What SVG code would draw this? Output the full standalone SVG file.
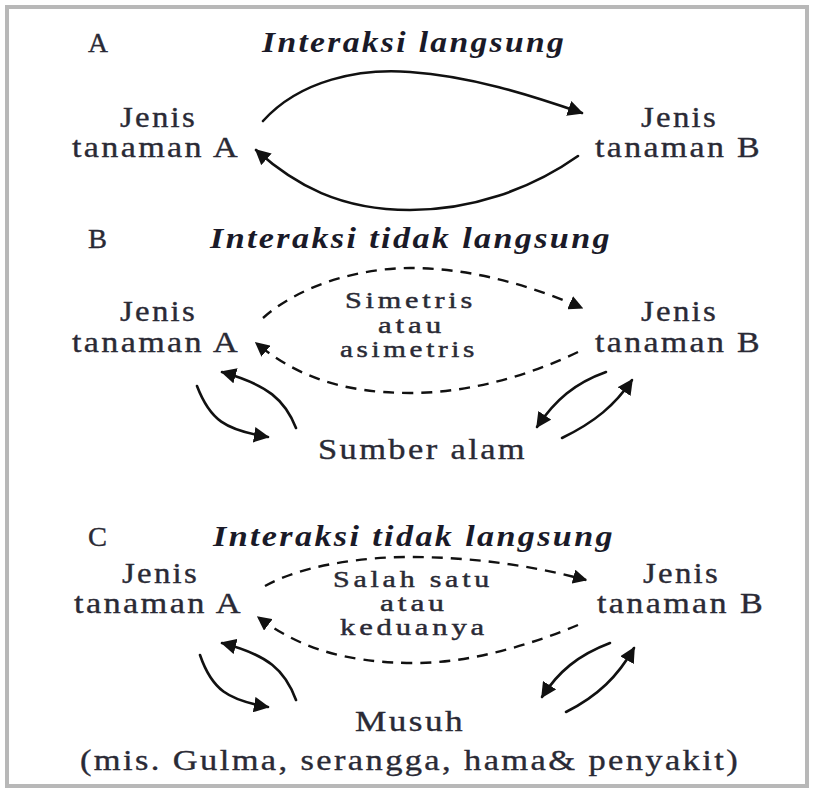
<svg xmlns="http://www.w3.org/2000/svg" width="814" height="792" viewBox="0 0 814 792">
<style>
text{font-family:"Liberation Serif","Times New Roman",Times,serif;fill:#2a2a35;stroke:#2a2a35;stroke-width:0.35;}
.lbl{font-size:29px;letter-spacing:2px;}
.mid{font-size:24px;letter-spacing:3px;stroke-width:0.45;}
.hd{font-size:29px;font-weight:bold;font-style:italic;fill:#1a1a28;stroke:none;letter-spacing:2px;}
.let{font-size:27px;}
.s{fill:none;stroke:#111;stroke-width:2.6;stroke-linecap:round;}
.d{fill:none;stroke:#111;stroke-width:2.4;stroke-dasharray:11 8;}
</style>
<defs>
<marker id="ah" viewBox="0 0 10 10" refX="9" refY="5" markerWidth="6" markerHeight="6" markerUnits="strokeWidth" orient="auto">
<path d="M0,0 L10,5 L0,10 z" fill="#111"/>
</marker>
</defs>
<rect x="7" y="7" width="800" height="779" fill="#fff" stroke="#b8b8b8" stroke-width="4"/>

<g id="sectionA">
<text class="let" x="88" y="52" textLength="20" lengthAdjust="spacingAndGlyphs">A</text>
<text class="hd" x="262" y="52" textLength="304" lengthAdjust="spacingAndGlyphs">Interaksi langsung</text>
</g>
<g id="A-plantA">
<text class="lbl" x="120" y="127" textLength="77" lengthAdjust="spacingAndGlyphs">Jenis</text>
<text class="lbl" x="72" y="157" textLength="168" lengthAdjust="spacingAndGlyphs">tanaman A</text>
</g>
<g id="A-plantB">
<text class="lbl" x="641" y="127" textLength="77" lengthAdjust="spacingAndGlyphs">Jenis</text>
<text class="lbl" x="595" y="157" textLength="167" lengthAdjust="spacingAndGlyphs">tanaman B</text>
</g>

<g id="sectionB">
<text class="let" x="88" y="248" textLength="19" lengthAdjust="spacingAndGlyphs">B</text>
<text class="hd" x="210" y="248" textLength="402" lengthAdjust="spacingAndGlyphs">Interaksi tidak langsung</text>
</g>
<g id="B-plantA">
<text class="lbl" x="120" y="321" textLength="77" lengthAdjust="spacingAndGlyphs">Jenis</text>
<text class="lbl" x="72" y="352" textLength="168" lengthAdjust="spacingAndGlyphs">tanaman A</text>
</g>
<g id="B-plantB">
<text class="lbl" x="641" y="321" textLength="77" lengthAdjust="spacingAndGlyphs">Jenis</text>
<text class="lbl" x="595" y="352" textLength="167" lengthAdjust="spacingAndGlyphs">tanaman B</text>
</g>
<g id="B-mid">
<text class="mid" x="345" y="308" textLength="131" lengthAdjust="spacingAndGlyphs">Simetris</text>
<text class="mid" x="378" y="333" textLength="67" lengthAdjust="spacingAndGlyphs">atau</text>
<text class="mid" x="340" y="357" textLength="138" lengthAdjust="spacingAndGlyphs">asimetris</text>
</g>
<g id="B-resource">
<text class="lbl" x="318" y="459" textLength="209" lengthAdjust="spacingAndGlyphs">Sumber alam</text>
</g>

<g id="sectionC">
<text class="let" x="88" y="546" textLength="19" lengthAdjust="spacingAndGlyphs">C</text>
<text class="hd" x="213" y="546" textLength="402" lengthAdjust="spacingAndGlyphs">Interaksi tidak langsung</text>
</g>
<g id="C-plantA">
<text class="lbl" x="122" y="583" textLength="77" lengthAdjust="spacingAndGlyphs">Jenis</text>
<text class="lbl" x="74" y="613" textLength="169" lengthAdjust="spacingAndGlyphs">tanaman A</text>
</g>
<g id="C-plantB">
<text class="lbl" x="643" y="583" textLength="77" lengthAdjust="spacingAndGlyphs">Jenis</text>
<text class="lbl" x="597" y="613" textLength="168" lengthAdjust="spacingAndGlyphs">tanaman B</text>
</g>
<g id="C-mid">
<text class="mid" x="333" y="587" textLength="160" lengthAdjust="spacingAndGlyphs">Salah satu</text>
<text class="mid" x="380" y="611" textLength="68" lengthAdjust="spacingAndGlyphs">atau</text>
<text class="mid" x="340" y="635" textLength="148" lengthAdjust="spacingAndGlyphs">keduanya</text>
</g>
<g id="C-enemy">
<text class="lbl" x="355" y="731" textLength="110" lengthAdjust="spacingAndGlyphs">Musuh</text>
<text class="lbl" x="80" y="770" textLength="660" lengthAdjust="spacingAndGlyphs">(mis. Gulma, serangga, hama&amp; penyakit)</text>
</g>

<g id="connectors">
<path class="s" d="M263,121 C300,80 360,68 410,72 C470,76 530,95 582,113" marker-end="url(#ah)"/>
<path class="s" d="M578,156 C530,190 470,210 410,210 C340,210 295,185 256,150" marker-end="url(#ah)"/>

<path class="d" d="M263,318 C300,285 360,268 410,268 C470,268 530,285 582,308" marker-end="url(#ah)"/>
<path class="d" d="M578,352 C530,375 470,393 410,393 C340,393 295,375 256,343" marker-end="url(#ah)"/>
<path class="s" d="M197,386 C210,420 225,430 268,437" marker-end="url(#ah)"/>
<path class="s" d="M296,428 C285,400 268,385 222,372" marker-end="url(#ah)"/>
<path class="s" d="M606,372 C575,383 555,400 537,427" marker-end="url(#ah)"/>
<path class="s" d="M562,438 C595,422 615,405 632,380" marker-end="url(#ah)"/>

<path class="d" d="M265,586 C300,566 360,557 410,557 C470,557 530,565 586,580" marker-end="url(#ah)"/>
<path class="d" d="M578,625 C530,645 470,663 415,663 C340,663 295,645 258,617" marker-end="url(#ah)"/>
<path class="s" d="M200,655 C212,690 228,700 268,707" marker-end="url(#ah)"/>
<path class="s" d="M296,700 C285,670 268,655 222,643" marker-end="url(#ah)"/>
<path class="s" d="M610,643 C578,655 558,672 542,697" marker-end="url(#ah)"/>
<path class="s" d="M566,712 C598,696 618,676 634,648" marker-end="url(#ah)"/>
</g>
</svg>
